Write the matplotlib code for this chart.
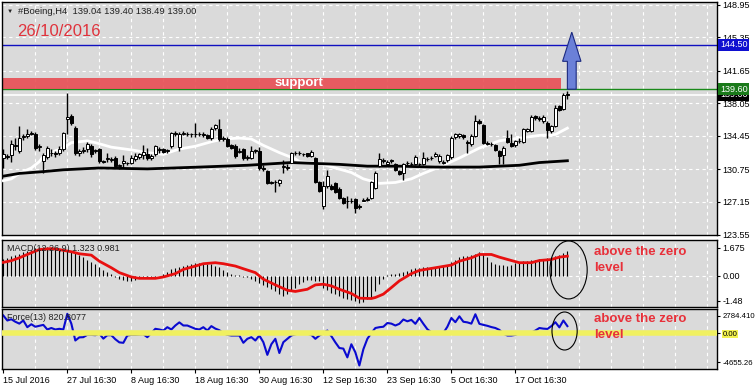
import matplotlib
matplotlib.use('Agg')
import matplotlib.pyplot as plt
import matplotlib.transforms as mtransforms
from matplotlib.patches import Polygon, Ellipse, Rectangle
import numpy as np

plt.rcParams['font.family'] = ['Liberation Sans', 'DejaVu Sans']

# --- data (Boeing H4, 15 Jul - 26 Oct 2016) ---
opens = [132.0, 132.1, 132.3, 133.4, 132.8, 134.3, 134.4, 134.8, 134.7, 133.2,
         131.7, 132.1, 132.6, 132.5, 132.6, 133.0, 136.3, 136.6, 135.3, 132.5,
         132.8, 133.0, 133.3, 132.8, 133.0, 131.7, 131.9, 131.8, 132.0, 131.1,
         131.5, 131.4, 131.5, 131.9, 132.1, 132.3, 132.4, 132.0, 132.4, 132.9,
         133.0, 132.8, 133.3, 134.8, 133.2, 134.7, 134.7, 134.6, 134.6, 134.7,
         134.7, 134.5, 134.2, 135.3, 135.2, 134.1, 134.1, 133.4, 133.3, 132.7,
         133.0, 132.0, 132.0, 132.8, 132.8, 130.9, 130.6, 129.3, 129.4, 129.2,
         131.0, 131.0, 131.5, 132.5, 132.5, 132.4, 132.5, 132.2, 132.0, 129.3,
         126.7, 128.9, 128.9, 129.2, 128.6, 127.6, 127.2, 127.3, 127.5, 126.7,
         127.3, 127.4, 127.6, 128.7, 131.1, 131.7, 131.3, 131.7, 131.3, 130.6,
         130.4, 131.4, 131.3, 131.3, 131.3, 131.3, 131.9, 132.0, 132.2, 131.7,
         131.5, 131.8, 132.1, 134.3, 134.4, 134.5, 133.8, 133.5, 134.4, 136.1,
         135.7, 133.7, 133.6, 133.4, 132.8, 132.3, 134.2, 133.7, 133.4, 133.9,
         133.8, 135.0, 135.0, 136.6, 136.4, 136.1, 135.9, 135.0, 135.5, 137.7,
         137.4, 139.04]
highs = [133.0, 132.4, 134.0, 134.2, 135.5, 134.7, 135.2, 135.0, 134.9, 133.6,
         132.5, 133.3, 133.0, 132.8, 133.3, 134.9, 139.2, 136.9, 135.5, 133.0,
         133.2, 133.8, 133.6, 133.0, 133.1, 131.8, 132.6, 132.1, 132.2, 131.3,
         132.3, 131.6, 132.3, 132.5, 132.6, 133.4, 133.1, 132.4, 133.4, 133.2,
         133.1, 133.0, 134.9, 135.0, 134.9, 135.0, 134.9, 134.8, 135.9, 134.9,
         134.9, 134.7, 135.4, 135.8, 136.3, 134.4, 134.3, 133.6, 133.5, 133.1,
         133.1, 132.3, 133.3, 133.0, 133.2, 131.2, 130.7, 129.5, 129.6, 129.7,
         131.8, 131.3, 132.7, 132.8, 132.8, 132.6, 132.6, 132.9, 132.1, 129.5,
         129.5, 130.7, 129.1, 129.3, 128.8, 127.7, 127.8, 127.6, 127.6, 126.9,
         127.6, 127.7, 129.5, 130.6, 132.6, 132.0, 131.8, 131.9, 131.4, 130.7,
         131.5, 131.7, 131.6, 132.3, 131.5, 132.7, 132.1, 132.2, 132.7, 132.4,
         131.8, 132.4, 134.4, 134.8, 134.8, 134.7, 134.0, 134.6, 136.8, 136.3,
         135.8, 133.9, 133.8, 133.5, 132.9, 133.3, 135.1, 134.7, 134.0, 134.2,
         135.3, 135.3, 136.8, 136.8, 136.6, 136.7, 136.1, 135.6, 137.9, 137.9,
         139.2, 139.40]
lows = [130.9, 131.9, 131.6, 132.9, 132.6, 134.0, 134.2, 134.5, 132.9, 132.8,
        130.4, 131.9, 132.2, 132.1, 132.3, 132.8, 134.6, 135.6, 132.3, 132.2,
        132.5, 132.7, 132.1, 132.6, 131.5, 131.4, 131.6, 131.6, 131.0, 130.8,
        130.9, 131.2, 131.3, 131.7, 131.9, 131.9, 131.8, 131.8, 132.2, 132.6,
        132.6, 132.6, 133.1, 134.4, 132.8, 134.5, 134.4, 134.3, 134.3, 134.4,
        134.3, 134.1, 134.0, 135.1, 133.9, 133.9, 133.2, 133.0, 132.0, 132.5,
        131.8, 131.8, 131.9, 132.6, 130.7, 130.6, 129.1, 129.1, 128.2, 128.9,
        130.4, 130.7, 131.4, 132.3, 132.3, 132.2, 132.1, 132.1, 129.2, 128.3,
        126.4, 128.7, 128.5, 128.1, 127.5, 126.9, 126.5, 127.0, 125.9, 126.4,
        127.2, 127.2, 127.5, 128.6, 131.0, 131.5, 131.2, 131.5, 130.6, 130.1,
        129.6, 131.2, 131.1, 131.2, 131.1, 131.2, 131.7, 131.8, 132.1, 131.5,
        131.3, 131.6, 131.9, 134.1, 134.2, 134.1, 132.6, 133.3, 134.3, 135.8,
        133.6, 133.4, 133.3, 132.8, 131.3, 131.3, 133.7, 133.2, 133.2, 133.7,
        133.7, 134.9, 134.9, 136.2, 136.1, 135.9, 134.2, 134.8, 135.4, 137.2,
        137.3, 138.49]
closes = [132.4, 132.2, 133.5, 133.3, 134.2, 134.4, 134.7, 134.6, 133.1, 133.3,
          132.3, 133.1, 132.5, 132.4, 133.0, 134.8, 136.5, 135.9, 132.6, 132.8,
          132.9, 133.5, 132.4, 132.9, 131.7, 131.6, 132.0, 131.9, 131.1, 131.2,
          131.7, 131.5, 132.0, 132.2, 132.4, 132.7, 132.0, 132.2, 133.3, 133.0,
          132.7, 132.9, 134.8, 134.6, 134.7, 134.8, 134.6, 134.7, 134.7, 134.6,
          134.5, 134.2, 135.2, 135.6, 134.1, 134.2, 133.3, 133.1, 132.2, 132.8,
          132.0, 132.1, 132.8, 132.9, 130.9, 130.8, 129.2, 129.2, 129.3, 129.6,
          131.1, 130.9, 132.5, 132.6, 132.5, 132.4, 132.2, 132.7, 129.3, 128.4,
          128.9, 130.0, 128.6, 128.2, 127.6, 127.0, 127.3, 127.2, 126.5, 126.6,
          127.4, 127.5, 129.3, 130.4, 131.9, 131.8, 131.6, 131.7, 130.7, 130.2,
          131.3, 131.5, 131.3, 132.1, 131.3, 132.0, 131.9, 132.0, 132.4, 132.2,
          131.6, 132.3, 134.2, 134.7, 134.6, 134.3, 133.7, 134.4, 136.1, 135.9,
          133.7, 133.6, 133.5, 132.9, 132.2, 133.1, 133.8, 133.3, 133.9, 133.9,
          135.2, 135.2, 136.5, 136.4, 136.3, 136.5, 135.1, 135.5, 137.5, 137.3,
          139.0, 139.00]

# moving averages (knots: bar index, value)
ma_fast_idx = [0, 2, 4, 7, 9, 10, 13, 15, 17, 21, 23, 27, 32, 36, 40, 44, 48, 52, 55,
               59, 62, 65, 69, 73, 74, 79, 83, 87, 90, 94, 98, 102, 105, 109, 114,
               119, 124, 129, 134, 138, 141]
ma_fast_val = [129.5, 129.7, 130.3, 130.9, 131.6, 132.2, 132.8, 133.1, 133.7, 133.9,
               133.7, 133.2, 132.9, 132.6, 132.4, 133.0, 133.3, 133.8, 134.1, 134.2,
               134.1, 133.4, 132.6, 131.9, 131.6, 131.4, 130.9, 130.4, 129.7, 129.2,
               129.3, 129.7, 130.3, 131.0, 132.0, 133.1, 133.9, 134.2, 134.5, 134.6,
               135.3]
ma_slow_idx = [0, 4, 10, 15, 24, 36, 49, 61, 72, 84, 91, 99, 108, 119, 124, 129, 134, 141]
ma_slow_val = [130.0, 130.3, 130.5, 130.7, 130.9, 130.8, 131.0, 131.2, 131.5, 131.3,
               131.1, 131.1, 131.0, 131.0, 131.1, 131.2, 131.5, 131.7]

macd_hist = [1.0, 1.05, 1.15, 1.25, 1.3, 1.4, 1.5, 1.55, 1.65, 1.7,
             1.72, 1.7, 1.68, 1.65, 1.62, 1.55, 1.5, 1.45, 1.35, 1.22,
             1.1, 0.95, 0.85, 0.7, 0.55, 0.35, 0.2, 0.08, -0.08, -0.18,
             -0.25, -0.3, -0.28, -0.22, -0.15, -0.12, -0.1, -0.08, -0.05, 0.0,
             0.1, 0.25, 0.38, 0.48, 0.55, 0.6, 0.66, 0.7, 0.74, 0.76,
             0.74, 0.7, 0.68, 0.6, 0.52, 0.35, 0.2, 0.12, 0.06, 0.03,
             -0.05, -0.1, -0.18, -0.3, -0.43, -0.55, -0.68, -0.8, -0.92, -1.08,
             -1.2, -1.1, -0.9, -0.7, -0.5, -0.35, -0.24, -0.22, -0.3, -0.33,
             -0.7, -0.85, -1.0, -1.1, -1.2, -1.3, -1.4, -1.45, -1.5, -1.6,
             -1.55, -1.4, -1.3, -0.9, -0.5, -0.2, 0.05, 0.1, 0.12, 0.15,
             0.2, 0.3, 0.4, 0.45, 0.48, 0.5, 0.52, 0.53, 0.53, 0.58,
             0.62, 0.66, 0.8, 0.95, 1.1, 1.15, 1.2, 1.25, 1.32, 1.42,
             1.3, 1.1, 0.8, 0.7, 0.66, 0.62, 0.6, 0.65, 0.75, 0.85,
             0.88, 0.9, 0.92, 0.95, 0.98, 1.0, 1.05, 1.1, 1.15, 1.25,
             1.35, 1.5]
signal_idx = [0, 2, 4, 7, 9, 12, 14, 17, 19, 22, 24, 27, 29, 32, 34, 38, 40, 43, 45,
              48, 50, 53, 55, 58, 60, 63, 65, 68, 71, 73, 76, 78, 80, 82, 84, 87,
              89, 92, 93, 95, 97, 99, 102, 104, 107, 109, 112, 114, 117, 119, 122,
              124, 127, 129, 132, 134, 137, 139, 141]
signal_val = [0.8, 0.9, 1.07, 1.37, 1.56, 1.62, 1.56, 1.43, 1.31, 1.23, 0.87, 0.48,
              0.19, -0.07, -0.15, -0.15, -0.07, 0.13, 0.38, 0.58, 0.72, 0.78, 0.72,
              0.58, 0.42, 0.19, -0.2, -0.54, -0.86, -0.93, -0.8, -0.54, -0.5, -0.6,
              -0.8, -1.05, -1.33, -1.35, -1.29, -1.09, -0.7, -0.3, 0.13, 0.32, 0.44,
              0.52, 0.64, 0.87, 1.07, 1.27, 1.27, 1.11, 0.91, 0.78, 0.78, 0.91, 0.97,
              1.11, 1.17]

force = [2800, 2000, 2200, 1800, 1500, 2000, 930, 1400, 1000, 1150,
         1300, 560, 800, 560, 670, 560, 3070, 1500, -1200, -700,
         -670, -290, -300, -350, -100, -900, -350, -350, -1000, -1500,
         -1570, -400, -300, -300, -250, -200, -670, 0, 670, 560,
         400, 930, 560, 1200, 1700, 1200, 1200, 930, 670, 560,
         930, 400, 1100, 700, 450, -30, -290, -400, -400, -400,
         -1570, -930, -670, -1200, -400, -1470, -3500, -1800, -930, -3200,
         -1470, -930, -400, -200, -30, 0, -100, -290, -930, -400,
         0, 400, -500, -1500, -2400, -2500, -3900, -1800, -3100, -5200,
         -2600, -930, 0, 800, 930, 1000, 1600, 1500, 1200, 1470,
         2160, 1870, 2100, 1470, 2400, 1470, 600, 100, 0, -50,
         0, 1000, 2400, 1730, 2670, 1800, 1700, 1500, 3000, 1470,
         1300, 1150, 950, 800, 500, -100, -400, -400, -300, 0,
         -50, 0, 50, 400, 800, 700, 650, 1100, 1730, 900,
         2000, 1100]

price_ticks = [148.95, 145.35, 141.65, 138.05, 134.45, 130.75, 127.15, 123.55]
date_pos = [0, 16, 32, 48, 64, 80, 96, 112, 128]
date_labels = ['15 Jul 2016', '27 Jul 16:30', '8 Aug 16:30', '18 Aug 16:30',
               '30 Aug 16:30', '12 Sep 16:30', '23 Sep 16:30', '5 Oct 16:30',
               '17 Oct 16:30']
target_level = 144.50
support_level = 139.60
support_top = 140.85
bid_level = 139.00

W, H = 756, 390
fig = plt.figure(figsize=(W / 100, H / 100), dpi=100)
BG = '#dadada'
FS = 6.5
XMIN, XMAX = -0.33, 178.4


def panel(left, top, right, bottom, fs=FS):
    ax = fig.add_axes([left / W, 1 - bottom / H, (right - left) / W, (bottom - top) / H])
    ax.set_facecolor(BG)
    for s in ax.spines.values():
        s.set_color('black')
        s.set_linewidth(1)
    ax.set_xlim(XMIN, XMAX)
    ax.yaxis.tick_right()
    ax.tick_params(axis='y', direction='out', length=2.5, width=0.8, pad=1.5, labelsize=fs)
    ax.tick_params(axis='x', bottom=False, labelbottom=False)
    for k in range(1, 23):
        ax.axvline(8 * k, color='white', lw=0.8, ls=(0, (3, 3)), zorder=1)
    return ax


x = np.arange(len(closes))
o = np.array(opens)
c = np.array(closes)

# ---------- price panel ----------
ax = panel(2, 2, 717, 235)
ax.set_ylim(123.5, 149.23)
ax.set_yticks(price_ticks)
ax.set_yticklabels([f'{t:.2f}' for t in price_ticks])
for t in price_ticks:
    ax.axhline(t, color='white', lw=0.8, ls=(0, (3, 3)), zorder=1)

ax.axhline(target_level, color='#1010c0', lw=1, zorder=2)
ax.axhline(support_level, color='#1a8a1a', lw=1, zorder=2)
ax.add_patch(Rectangle((XMIN, support_level), 139.5 - XMIN, support_top - support_level,
                       fc='#e84a50', ec='none', alpha=0.88, zorder=2))
ax.text(74, (support_level + support_top) / 2 + 0.05, 'support', color='white',
        fontsize=9.5, fontweight='bold', ha='center', va='center', zorder=3)
ax.axhline(bid_level, color='white', lw=1.2, zorder=2)

ax.plot(ma_fast_idx, ma_fast_val, color='white', lw=2, zorder=3)
ax.plot(ma_slow_idx, ma_slow_val, color='black', lw=2, zorder=3)

ax.vlines(x, lows, highs, color='black', lw=1, zorder=4)
bottoms = np.minimum(o, c)
heights = np.maximum(np.abs(c - o), 0.03)
ax.bar(x, heights, 0.75, bottoms, color=np.where(c >= o, 'white', 'black'),
       edgecolor='black', lw=0.7, zorder=5)

arrow = [(141.0, 139.6), (143.2, 139.6), (143.2, 142.68), (144.4, 142.68),
         (142.1, 145.9), (139.8, 142.68), (141.0, 142.68)]
ax.add_patch(Polygon(arrow, closed=True, fc='#6b80d8', ec='#1c2a80', lw=0.8, zorder=6))

trans = mtransforms.blended_transform_factory(ax.transAxes, ax.transData)
for lvl, txt, fc in [(bid_level, '139.00', 'black'), (support_level, '139.60', '#1a7a1a'),
                     (target_level, '144.50', '#1010d0')]:
    ax.text(1.0 + 3 / 715, lvl, txt, transform=trans, ha='left', va='center',
            fontsize=FS, color='white', clip_on=False, zorder=10,
            bbox=dict(boxstyle='square,pad=0.18', fc=fc, ec='none'))

fig.text(7 / W, 1 - 11 / H, '\u25BC', fontsize=4.5, va='center', color='#222222')
fig.text(18 / W, 1 - 11 / H, '#Boeing,H4  139.04 139.40 138.49 139.00',
         fontsize=6.8, va='center', color='#222222')
fig.text(17 / W, 1 - 31.5 / H, '26/10/2016', fontsize=12, va='center', color='#e0333c')

# ---------- MACD panel ----------
ax2 = panel(2, 240, 717, 307)
ax2.set_ylim(-1.855, 2.13)
ax2.set_yticks([1.675, 0.0, -1.48])
ax2.set_yticklabels(['1.675', '0.00', '-1.48'])
ax2.axhline(0, color='white', lw=0.8, ls=(0, (3, 3)), zorder=1)
ax2.vlines(x, 0, macd_hist, color='black', lw=0.8, zorder=2)
ax2.plot(signal_idx, signal_val, color='#e81010', lw=2, zorder=3)
ax2.add_patch(Ellipse((141.3, 0.35), 9.3, 3.45, fc='none', ec='black', lw=0.8, zorder=4))
fig.text(7 / W, 1 - 249 / H, 'MACD(12,26,9) 1.323 0.981', fontsize=FS, va='center',
         color='#222222')

# ---------- Force panel ----------
ax3 = panel(2, 309, 717, 369, fs=5.6)
ax3.set_ylim(-5760, 3840)
ax3.set_yticks([2784.41, 0.0, -4655.26])
ax3.set_yticklabels(['2784.410', '0.00', '-4655.26'])
ax3.get_yticklabels()[1].set_bbox(dict(boxstyle='square,pad=0.1', fc='#f2f250', ec='none'))
ax3.plot(x, force, color='#0a0ad0', lw=1.5, zorder=2)
ax3.axhline(0, color='#f0f060', lw=4, zorder=3)
ax3.add_patch(Ellipse((140.3, 320), 6.3, 6080, fc='none', ec='black', lw=0.8, zorder=4))
ax3.set_xticks(date_pos)
ax3.set_xticklabels(date_labels, ha='left')
ax3.tick_params(axis='x', bottom=True, labelbottom=True, direction='out', length=3,
                width=0.8, pad=2, labelsize=FS)
fig.text(7 / W, 1 - 318 / H, 'Force(13) 820.8077', fontsize=FS, va='center',
         color='#222222')

# annotations
for ytop in (252, 319):
    fig.text(594 / W, 1 - ytop / H, 'above the zero', fontsize=9.5, fontweight='bold',
             color='#e8303a', va='center')
    fig.text(594 / W, 1 - (ytop + 16) / H, 'level', fontsize=9.5, fontweight='bold',
             color='#e8303a', va='center')

fig.savefig('out.png', dpi=100, facecolor='white')
